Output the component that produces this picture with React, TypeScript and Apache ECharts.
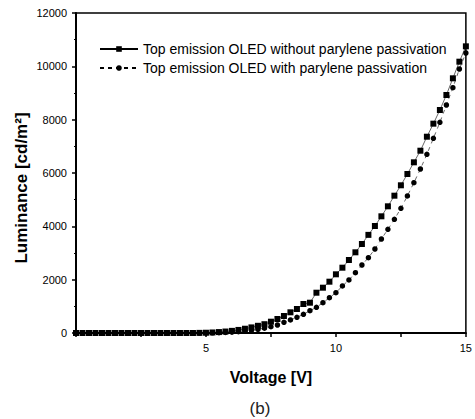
import React, { useEffect, useRef } from "react";
import * as echarts from "echarts";

const voltages = [
  0, 0.25, 0.5, 0.75, 1, 1.25, 1.5, 1.75, 2, 2.25, 2.5, 2.75, 3, 3.25, 3.5, 3.75, 4, 4.25, 4.5, 4.75,
  5, 5.25, 5.5, 5.75, 6, 6.25, 6.5, 6.75, 7, 7.25, 7.5, 7.75, 8, 8.25, 8.5, 8.75, 9, 9.25, 9.5, 9.75,
  10, 10.25, 10.5, 10.75, 11, 11.25, 11.5, 11.75, 12, 12.25, 12.5, 12.75, 13, 13.25, 13.5, 13.75,
  14, 14.25, 14.5, 14.75, 15,
];

const withoutParylene = [
  0, 0, 0, 0, 0, 0, 0, 0, 0, 0, 0, 0, 0, 0, 0, 0, 0, 0, 0, 5,
  10, 20, 35, 55, 80, 115, 160, 210, 270, 330, 424, 525, 638, 776, 900, 1088, 1136, 1511, 1699, 1924,
  2201, 2449, 2738, 3026, 3338, 3680, 4013, 4376, 4751, 5149, 5539, 5963, 6401, 6836, 7361, 7850,
  8363, 8925, 9551, 10174, 10750,
];

const withParylene = [
  0, 0, 0, 0, 0, 0, 0, 0, 0, 0, 0, 0, 0, 0, 0, 0, 0, 0, 0, 0,
  4, 7, 12, 20, 33, 50, 70, 100, 135, 180, 236, 300, 401, 488, 589, 701, 836, 964, 1136, 1324,
  1511, 1763, 1988, 2261, 2550, 2824, 3150, 3525, 3889, 4264, 4676, 5138, 5636, 6150, 6701, 7301,
  7900, 8550, 9200, 9900, 10500,
];

const seriesNames = [
  "Top emission OLED without parylene passivation",
  "Top emission OLED with parylene passivation",
];

const xTickLabels = [5, 10, 15];
const xAxisTitle = "Voltage [V]";
const yAxisTitle = "Luminance [cd/m²]";
const caption = "(b)";

export default function App() {
  const ref = useRef<HTMLDivElement>(null);
  useEffect(() => {
    if (!ref.current) return;
    const chart = echarts.init(ref.current, null, { renderer: "svg" });
    const font = "Liberation Sans, Arial, sans-serif";
    chart.setOption({
      animation: false,
      backgroundColor: "#fff",
      textStyle: { fontFamily: font, color: "#000" },
      grid: {
        left: 76,
        top: 13,
        right: 9,
        bottom: 86,
        show: true,
        borderColor: "#000",
        borderWidth: 1.5,
      },
      legend: {
        orient: "vertical",
        left: 94,
        top: 37,
        itemWidth: 38,
        itemHeight: 7,
        itemGap: 5,
        textStyle: { fontSize: 14, color: "#000", fontFamily: font },
        data: seriesNames,
      },
      xAxis: {
        type: "value",
        min: 0,
        max: 15,
        interval: 2.5,
        name: xAxisTitle,
        nameLocation: "middle",
        nameGap: 36,
        nameTextStyle: { fontSize: 16, fontWeight: "bold", color: "#000", fontFamily: font },
        axisLine: { lineStyle: { color: "#000", width: 2 } },
        axisTick: { inside: false, length: 4, lineStyle: { color: "#000", width: 1.5 } },
        axisLabel: {
          fontSize: 11,
          color: "#000",
          margin: 9,
          formatter: (v: number) => (xTickLabels.includes(v) ? String(v) : ""),
        },
        splitLine: { show: false },
      },
      yAxis: {
        type: "value",
        min: 0,
        max: 12000,
        interval: 2000,
        axisLine: { show: true, lineStyle: { color: "#000", width: 2 } },
        axisTick: { show: true, length: 4, lineStyle: { color: "#000", width: 1.5 } },
        minorTick: { show: true, splitNumber: 2, length: 2, lineStyle: { color: "#000", width: 1.2 } },
        axisLabel: { fontSize: 11, color: "#000", margin: 9, formatter: (v: number) => String(v) },
        splitLine: { show: false },
      },
      graphic: [
        {
          type: "text",
          x: 21,
          y: 188,
          rotation: Math.PI / 2,
          style: {
            text: yAxisTitle,
            fontSize: 17,
            fontWeight: "bold",
            fill: "#000",
            fontFamily: font,
            align: "center",
            verticalAlign: "middle",
          },
        },
        {
          type: "text",
          x: 260,
          y: 408,
          style: {
            text: caption,
            fontSize: 17,
            fill: "#222",
            fontFamily: font,
            align: "center",
            verticalAlign: "middle",
          },
        },
      ],
      series: [
        {
          name: seriesNames[0],
          type: "line",
          data: voltages.map((v, i) => [v, withoutParylene[i]]),
          symbol: "rect",
          symbolSize: 6,
          itemStyle: { color: "#000" },
          lineStyle: { color: "#000", width: 0.6, type: "solid" },
        },
        {
          name: seriesNames[1],
          type: "line",
          data: voltages.map((v, i) => [v, withParylene[i]]),
          symbol: "circle",
          symbolSize: 5.5,
          itemStyle: { color: "#000" },
          lineStyle: { color: "#000", width: 0.6, type: [4, 4] },
        },
      ],
    });
    return () => chart.dispose();
  }, []);
  return (
    <div
      ref={ref}
      style={{ position: "fixed", left: 0, top: 0, width: 475, height: 419 }}
    />
  );
}
